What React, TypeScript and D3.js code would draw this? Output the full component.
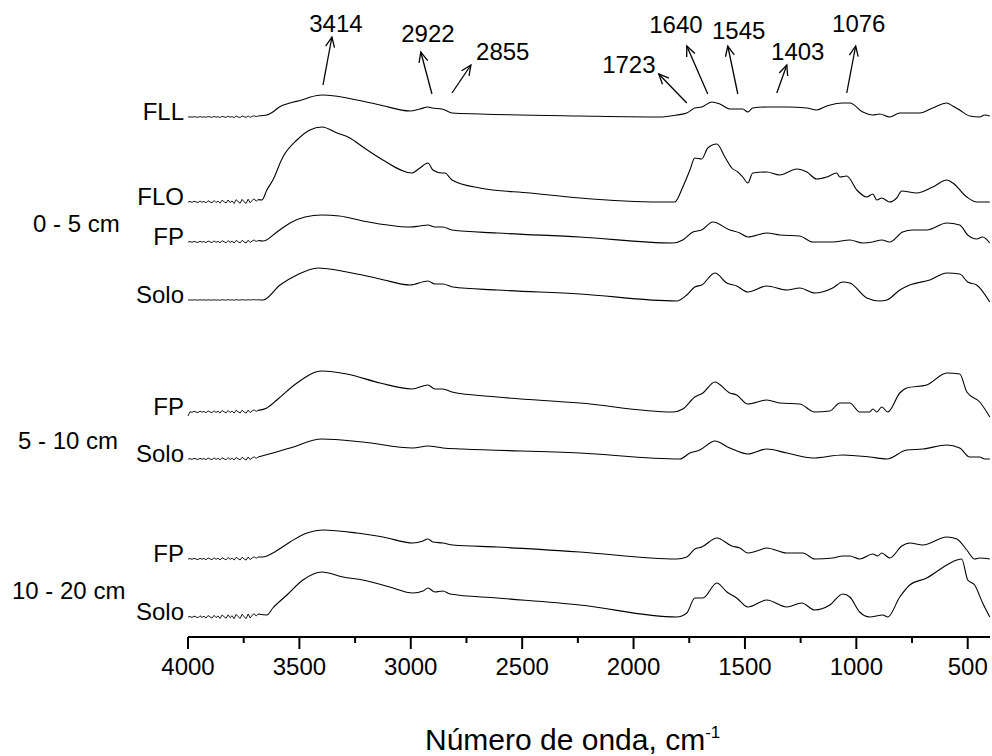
import React from 'react';
import * as d3 from 'd3';

// ---------- data ----------
const xDomain: [number, number] = [4000, 400];
const majorTicks = [4000, 3500, 3000, 2500, 2000, 1500, 1000, 500];
const minorTicks = [3750, 3250, 2750, 2250, 1750, 1250, 750];

const traceNames = ['FLL', 'FLO', 'FP', 'Solo', 'FP', 'Solo', 'FP', 'Solo'];
const traceOffsets = [520, 435, 395, 337, 225, 178, 78, 20];
const groupLabels = ['0 - 5 cm', '5 - 10 cm', '10 - 20 cm'];

// wavenumbers of the noisy low-signal region
const noiseWn = [4000, 3991, 3982, 3973, 3964, 3955, 3946, 3937, 3928, 3919, 3910, 3901, 3892, 3883, 3874, 3865, 3856, 3847, 3838, 3829, 3820, 3811, 3802, 3793, 3784, 3775, 3766, 3757, 3748, 3739, 3730, 3721, 3712, 3703, 3694, 3685];

const noiseFLL = [0, 0.2, -0.2, 0.3, 0, -0.3, 0.4, -0.1, 0.2, -0.4, 0.5, 0, -0.3, 0.6, -0.2, 0.3, -0.5, 0.7, 0.1, -0.4, 0.8, -0.2, 0.4, -0.6, 0.9, 0, -0.5, 1, 0.2, -0.4, 1.1, -0.3, 0.6, 1.2, 0.4, 1];
const noiseFLO = [0, 0.5, -0.4, 0.8, 0.1, -0.6, 1, -0.3, 0.6, -0.9, 1.3, 0, -0.8, 1.5, -0.5, 0.9, -1.2, 1.8, 0.2, -1, 2, -0.6, 1.1, -1.5, 2.3, 0.3, -1.2, 2.6, 0.1, -1.4, 2.8, -0.8, 1.6, 3.2, 0.8, 2.4];
const noiseFP05 = [0, 0.4, -0.3, 0.6, 0, -0.5, 0.8, -0.2, 0.5, -0.7, 1, 0.1, -0.6, 1.1, -0.3, 0.7, -0.9, 1.3, 0.2, -0.8, 1.4, -0.4, 0.8, -1, 1.6, 0.2, -0.9, 1.7, 0.1, -1, 1.8, -0.5, 1, 2, 0.5, 1.5];
const noiseSolo05 = [0, 0.1, -0.1, 0.2, 0, -0.1, 0.2, 0, 0.1, -0.2, 0.2, 0, -0.1, 0.2, -0.1, 0.1, -0.2, 0.3, 0, -0.1, 0.3, -0.1, 0.2, -0.2, 0.3, 0, -0.1, 0.3, 0.1, -0.1, 0.3, 0, 0.2, 0.3, 0.1, 0.2];
const noiseFP510 = [-4, 0.3, -0.4, 0.7, 0, -0.6, 0.9, -0.3, 0.6, -0.8, 1.1, 0, -0.7, 1.2, -0.4, 0.8, -1, 1.4, 0.2, -0.9, 1.5, -0.5, 0.9, -1.1, 1.7, 0.2, -1, 1.8, 0, -1.1, 1.9, -0.6, 1.1, 2.1, 0.6, 1.6];
const noiseSolo510 = [0, 0.3, -0.4, 0.6, 0.1, -0.5, 0.8, -0.3, 0.5, -0.7, 1, 0, -0.6, 1.1, -0.4, 0.7, -0.9, 1.3, 0.1, -0.8, 1.4, -0.5, 0.8, -1, 1.6, 0.2, -0.9, 1.8, 0.1, -1, 2, -0.5, 1.1, 2.2, 0.6, 2];
const noiseFP1020 = [0, 0.4, -0.3, 0.6, 0, -0.6, 0.8, -0.3, 0.6, -0.8, 1, 0.1, -0.7, 1.2, -0.3, 0.8, -1, 1.3, 0.2, -0.9, 1.5, -0.4, 0.9, -1.1, 1.7, 0.3, -1, 1.8, 0.1, -1.1, 2, -0.5, 1.1, 2.2, 0.7, 2];
const noiseSolo1020 = [0, 0.5, -0.5, 0.9, 0.1, -0.8, 1.2, -0.4, 0.8, -1.1, 1.5, 0, -1, 1.7, -0.6, 1.1, -1.4, 2, 0.3, -1.3, 2.2, -0.7, 1.3, -1.7, 2.6, 0.4, -1.5, 2.8, 0.2, -1.6, 3, -0.9, 1.8, 3.3, 1, 3];

// [wavenumber, intensity (a.u.)]
const specFLL: [number, number][] = [
  [3646, 2], [3619, 5], [3590, 10], [3542, 14], [3490, 17], [3450, 20], [3399, 22], [3340, 21], [3287, 19], [3138, 12], [3004, 6], [2959, 8], [2923, 10], [2905, 9], [2860, 8], [2847, 7], [2815, 4], [2690, 3], [2241, 1],
  [1882, 0], [1806, 2], [1761, 4], [1725, 9], [1694, 10], [1649, 15], [1613, 13], [1568, 8], [1510, 8], [1487, 5], [1465, 9], [1402, 10], [1312, 10], [1222, 9], [1178, 7], [1133, 11], [1061, 14], [1029, 14], [971, 5], [926, 2], [895, 3], [850, 0], [805, 4], [715, 4], [657, 9], [594, 14], [567, 11], [536, 7], [491, 1], [446, 0], [424, 2], [401, 1],
];
const specFLO: [number, number][] = [
  [3668, 2], [3646, 12], [3619, 22], [3574, 45], [3511, 62], [3453, 72], [3399, 75], [3331, 69], [3273, 64], [3215, 55], [3125, 42], [2995, 29], [2959, 34], [2923, 39], [2901, 32], [2860, 29], [2847, 29], [2815, 22], [2690, 14], [2465, 9], [2241, 4],
  [1882, 0], [1815, 0], [1779, 15], [1747, 32], [1725, 44], [1694, 43], [1667, 54], [1626, 58], [1590, 45], [1559, 34], [1532, 30], [1510, 25], [1487, 19], [1465, 29], [1402, 30], [1344, 27], [1267, 33], [1222, 30], [1178, 23], [1133, 25], [1088, 29], [1074, 25], [1043, 26], [998, 12], [953, 5], [926, 8], [908, 2], [886, 4], [850, 0], [819, 4], [796, 11], [729, 9], [657, 15], [594, 22], [567, 19], [504, 5], [460, 0], [401, 0],
];
const specFP05: [number, number][] = [
  [3663, 1], [3601, 10], [3542, 19], [3475, 25], [3399, 27], [3320, 26], [3215, 21], [3004, 15], [2959, 16], [2923, 17], [2892, 15], [2856, 15], [2815, 12], [2613, 9], [2241, 5],
  [1824, -1], [1779, 2], [1734, 10], [1694, 12], [1644, 20], [1568, 12], [1523, 9], [1487, 5], [1402, 9], [1344, 7], [1254, 6], [1196, 0], [1106, 0], [1029, 2], [971, -1], [926, 0], [886, 2], [850, 0], [792, 10], [747, 12], [684, 12], [594, 19], [536, 17], [500, 7], [460, 3], [433, 5], [401, -1],
];
const specSolo05: [number, number][] = [
  [3663, 0], [3587, 15], [3511, 25], [3417, 32], [3287, 28], [3138, 21], [3004, 15], [2923, 19], [2892, 16], [2856, 16], [2811, 13], [2613, 10], [2241, 6],
  [1806, -1], [1761, 5], [1725, 13], [1694, 15], [1635, 27], [1581, 17], [1537, 14], [1487, 8], [1402, 14], [1312, 10], [1254, 12], [1187, 7], [1106, 12], [1061, 18], [1029, 17], [953, 2], [895, -1], [863, 0], [805, 10], [760, 15], [670, 20], [594, 27], [536, 26], [500, 18], [460, 15], [401, -2],
];
const specFP510: [number, number][] = [
  [3646, 4], [3601, 12], [3511, 29], [3399, 41], [3287, 38], [3138, 29], [2995, 23], [2923, 27], [2892, 23], [2856, 23], [2815, 20], [2613, 15], [2241, 9],
  [1824, 0], [1779, 3], [1725, 15], [1689, 19], [1635, 30], [1568, 19], [1537, 17], [1487, 8], [1402, 12], [1344, 9], [1254, 8], [1187, 0], [1119, 1], [1074, 9], [1029, 9], [985, 0], [940, 0], [926, 3], [908, 0], [886, 5], [859, 0], [805, 19], [774, 24], [684, 27], [594, 39], [536, 38], [504, 20], [446, 10], [401, -5],
];
const specSolo510: [number, number][] = [
  [3619, 6], [3542, 11], [3399, 20], [3215, 17], [2990, 11], [2923, 13], [2856, 11], [2766, 10], [2241, 6],
  [1792, 0], [1747, 6], [1703, 9], [1635, 18], [1568, 11], [1487, 5], [1402, 10], [1312, 6], [1196, 1], [1061, 4], [940, 2], [863, 0], [774, 9], [702, 10], [594, 14], [536, 11], [491, 2], [446, 2], [424, 0], [401, 0],
];
const specFP1020: [number, number][] = [
  [3663, 2], [3619, 6], [3542, 17], [3466, 26], [3394, 29], [3242, 26], [3125, 22], [2990, 16], [2945, 18], [2923, 20], [2901, 17], [2856, 16], [2811, 14], [2613, 12], [2241, 7],
  [1806, 0], [1761, 2], [1725, 10], [1694, 12], [1626, 21], [1559, 13], [1523, 11], [1487, 6], [1447, 8], [1402, 11], [1312, 6], [1240, 6], [1187, 0], [1106, 1], [1061, 3], [1029, 3], [985, 0], [926, 5], [904, 3], [886, 6], [850, 1], [796, 13], [760, 16], [702, 14], [594, 22], [549, 20], [504, 9], [469, 0], [446, 1], [401, 0],
];
const specSolo1020: [number, number][] = [
  [3646, 2], [3619, 9], [3556, 22], [3484, 37], [3399, 45], [3304, 40], [3215, 37], [3094, 30], [2990, 24], [2945, 26], [2923, 29], [2892, 25], [2856, 26], [2824, 23], [2613, 19], [2241, 12],
  [1806, 0], [1761, 4], [1725, 19], [1689, 19], [1626, 34], [1581, 25], [1537, 19], [1487, 10], [1402, 17], [1312, 10], [1245, 14], [1187, 7], [1119, 12], [1061, 23], [1029, 20], [985, 5], [940, 0], [881, 2], [859, 0], [805, 20], [760, 32], [684, 39], [594, 52], [549, 57], [527, 58], [500, 37], [469, 32], [433, 14], [401, 0],
];

const traceNoise = [noiseFLL, noiseFLO, noiseFP05, noiseSolo05, noiseFP510, noiseSolo510, noiseFP1020, noiseSolo1020];
const traceSpectra = [specFLL, specFLO, specFP05, specSolo05, specFP510, specSolo510, specFP1020, specSolo1020];

// band annotations (wavenumber labels)
const annLabels = ['3414', '2922', '2855', '1723', '1640', '1545', '1403', '1076'];
const annFromWn = [3394, 2905, 2815, 1761, 1667, 1532, 1357, 1043];
const annToWn = [3354, 2955, 2730, 1887, 1761, 1577, 1312, 1003];
const annTextWn = [3336, 2923, 2587, 2021, 1810, 1528, 1263, 989];

// ---------- layout ----------
const W = 992;
const H = 756;
const FONT = "'Liberation Sans', Arial, Helvetica, sans-serif";
const annFromY = [85, 94, 93, 103, 94, 94, 93, 93];
const annToY = [37, 52, 65, 74, 46, 46, 65, 46];
const annTextY = [32, 42, 60, 73, 33, 39, 60, 32];
const groupLabelPos = [
  { x: 33, y: 232 },
  { x: 18, y: 449 },
  { x: 12, y: 599 },
];

export default function App() {
  const x = d3.scaleLinear().domain(xDomain).range([188, 990]);
  const y = d3.scaleLinear().domain([0, 520]).range([637, 117]);
  const smooth = d3
    .line<[number, number]>()
    .x((d) => x(d[0]))
    .y((d) => y(d[1]))
    .curve(d3.curveMonotoneX);
  const jagged = d3
    .line<[number, number]>()
    .x((d) => x(d[0]))
    .y((d) => y(d[1]))
    .curve(d3.curveLinear);

  const traces = traceSpectra.map((spec, i) => {
    const off = traceOffsets[i];
    const noisePts = noiseWn.map((w, j) => [w, traceNoise[i][j] + off] as [number, number]);
    const smoothPts: [number, number][] = [
      noisePts[noisePts.length - 1],
      ...spec.map((p) => [p[0], p[1] + off] as [number, number]),
    ];
    return { noise: jagged(noisePts) || '', smooth: smooth(smoothPts) || '' };
  });

  const axisY = y(0);

  const arrowHead = (x1: number, y1: number, x2: number, y2: number) => {
    const ang = Math.atan2(y2 - y1, x2 - x1);
    const len = 11;
    const spread = (24 * Math.PI) / 180;
    const a1 = ang + Math.PI - spread;
    const a2 = ang + Math.PI + spread;
    return `M${x2 + len * Math.cos(a1)},${y2 + len * Math.sin(a1)}L${x2},${y2}L${x2 + len * Math.cos(a2)},${y2 + len * Math.sin(a2)}`;
  };

  return (
    <svg
      width={W}
      height={H}
      viewBox={`0 0 ${W} ${H}`}
      style={{ position: 'absolute', left: 0, top: 0, background: '#fff' }}
      fontFamily={FONT}
    >
      <rect x={0} y={0} width={W} height={H} fill="#fff" />
      {/* spectra */}
      {traces.map((t, i) => (
        <g key={i} fill="none" stroke="#000" strokeWidth={1.1} strokeLinejoin="round">
          <path d={t.noise} strokeWidth={0.9} />
          <path d={t.smooth} />
        </g>
      ))}
      {/* trace labels */}
      {traceNames.map((n, i) => (
        <text key={i} x={184} y={y(traceOffsets[i]) + 3} fontSize={24} textAnchor="end" fill="#000">
          {n}
        </text>
      ))}
      {/* group labels */}
      {groupLabels.map((g, i) => (
        <text key={g} x={groupLabelPos[i].x} y={groupLabelPos[i].y} fontSize={24} fill="#000">
          {g}
        </text>
      ))}
      {/* annotations */}
      {annLabels.map((l, i) => {
        const x1 = x(annFromWn[i]);
        const x2 = x(annToWn[i]);
        const y1 = annFromY[i];
        const y2 = annToY[i];
        return (
          <g key={l}>
            <line x1={x1} y1={y1} x2={x2} y2={y2} stroke="#000" strokeWidth={1.3} />
            <path d={arrowHead(x1, y1, x2, y2)} fill="none" stroke="#000" strokeWidth={1.3} />
            <text x={x(annTextWn[i])} y={annTextY[i]} fontSize={24} textAnchor="middle" fill="#000">
              {l}
            </text>
          </g>
        );
      })}
      {/* x axis */}
      <line x1={x(xDomain[0])} x2={x(xDomain[1])} y1={axisY} y2={axisY} stroke="#000" strokeWidth={2} />
      {majorTicks.map((t) => (
        <g key={t}>
          <line x1={x(t)} x2={x(t)} y1={axisY} y2={axisY + 12} stroke="#000" strokeWidth={2} />
          <text x={x(t)} y={675} fontSize={24} textAnchor="middle" fill="#000">
            {t}
          </text>
        </g>
      ))}
      {minorTicks.map((t) => (
        <line key={t} x1={x(t)} x2={x(t)} y1={axisY} y2={axisY + 6} stroke="#000" strokeWidth={2} />
      ))}
      <text x={425} y={750} fontSize={30} fill="#000">
        Número de onda, cm
        <tspan dy={-12} fontSize={17}>-1</tspan>
      </text>
    </svg>
  );
}
